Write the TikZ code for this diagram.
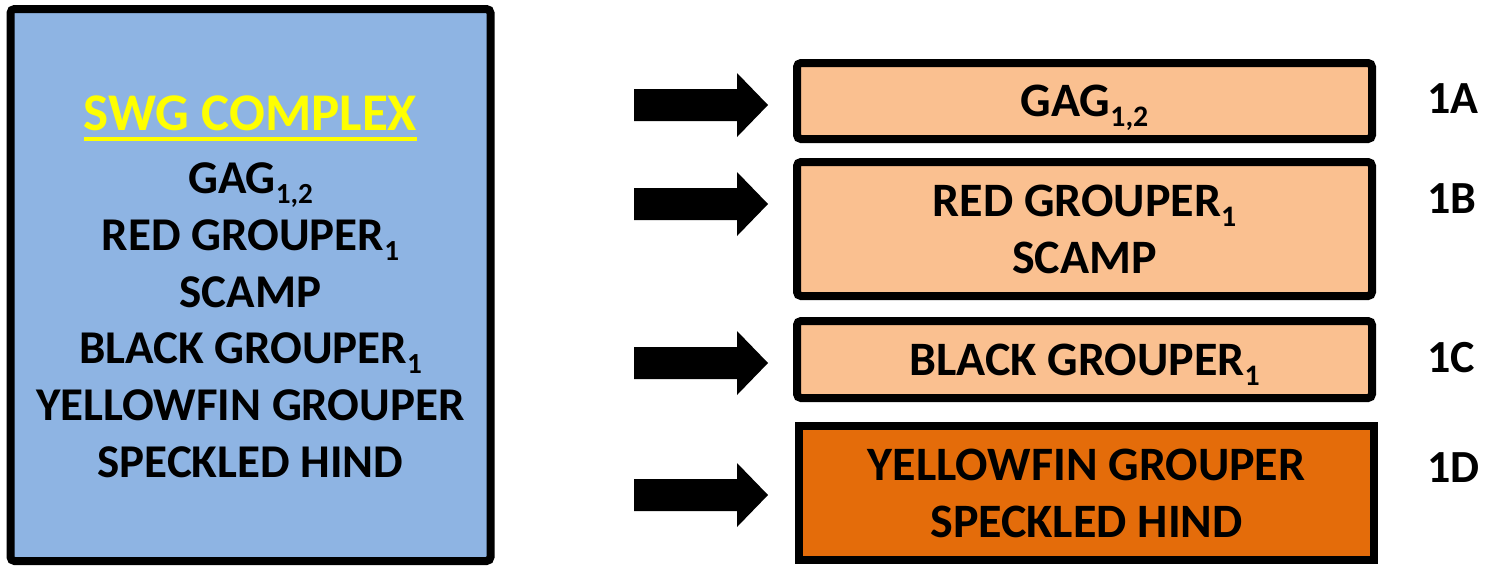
\documentclass[tikz,border=0pt]{standalone}
\usepackage{fontspec}
\setmainfont{Carlito}
\definecolor{skyfill}{HTML}{8EB4E3}
\definecolor{peach}{HTML}{FAC090}
\definecolor{deeporange}{HTML}{E46C0A}
\definecolor{brightyellow}{HTML}{FFFF00}
\newcommand\lowidx[1]{\raisebox{-0.22em}{\fontsize{0.62em}{0.62em}\selectfont #1}}
\newcommand\blockarrow[2]{%
  \fill[black] (#1) ++(0,-16) -- ++(103,0) -- ++(0,-16) -- (#2)
    -- ++(-31,32) -- ++(0,-16) -- ++(-103,0) -- cycle;}
\tikzset{
  panel/.style={draw=black, line width=8pt, rounded corners=4pt, inner sep=0pt, outer sep=0pt},
  label/.style={anchor=base, inner sep=0pt, font=\fontsize{47}{56}\selectfont\bfseries},
  boxlabel/.style={anchor=base, inner sep=0pt, font=\fontsize{48}{56}\selectfont\bfseries},
  tag/.style={anchor=base west, inner sep=0pt, font=\fontsize{46}{53}\selectfont\bfseries},
}
\begin{document}
\begin{tikzpicture}[x=1pt,y=-1pt]
\useasboundingbox (0,0) rectangle (1488,566);

% species complex panel
\node[panel, fill=skyfill, minimum width=480pt, minimum height=552pt] (complex) at (250.5,285) {};
\node[label, font=\fontsize{53}{60}\selectfont\bfseries, text=brightyellow] (swg) at (250.5,130) {SWG COMPLEX};
\draw[brightyellow, line width=4pt] ([yshift=-9pt]swg.base west) -- ([yshift=-9pt]swg.base east);
\node[label] (l1) at (250.5,193) {GAG\lowidx{1,2}};
\node[label] (l2) at (250.5,250) {RED GROUPER\lowidx{1}};
\node[label] (l3) at (250.5,307) {SCAMP};
\node[label] (l4) at (250.5,363) {BLACK GROUPER\lowidx{1}};
\node[label] (l5) at (250.5,420) {YELLOWFIN GROUPER};
\node[label] (l6) at (250.5,477) {SPECKLED HIND};

% subgroup panels
\node[panel, fill=peach, minimum width=575pt, minimum height=76pt] (boxA) at (1084.5,101) {};
\node[panel, fill=peach, minimum width=575pt, minimum height=134pt] (boxB) at (1084.5,229) {};
\node[panel, fill=peach, minimum width=575pt, minimum height=77pt] (boxC) at (1084.5,359.5) {};
\node[panel, fill=deeporange, rounded corners=0pt, minimum width=575pt, minimum height=134pt] (boxD) at (1086.5,493) {};

\node[boxlabel] (tA) at (1084.5,116) {GAG\lowidx{1,2}};
\node[boxlabel] (tB1) at (1084.5,216) {RED GROUPER\lowidx{1}};
\node[boxlabel] (tB2) at (1084.5,273) {SCAMP};
\node[boxlabel] (tC) at (1084.5,375) {BLACK GROUPER\lowidx{1}};
\node[boxlabel] (tD1) at (1086.5,480) {YELLOWFIN GROUPER};
\node[boxlabel] (tD2) at (1086.5,537) {SPECKLED HIND};

% subgroup tags
\node[tag] (nA) at (1427,113) {1A};
\node[tag] (nB) at (1427,213) {1B};
\node[tag] (nC) at (1427,372) {1C};
\node[tag] (nD) at (1427,482) {1D};

% block arrows
\coordinate (sA) at (634,105); \coordinate (eA) at (768,105);
\coordinate (sB) at (634,204); \coordinate (eB) at (768,204);
\coordinate (sC) at (634,363); \coordinate (eC) at (768,363);
\coordinate (sD) at (634,495); \coordinate (eD) at (768,495);
\blockarrow{sA}{eA}
\blockarrow{sB}{eB}
\blockarrow{sC}{eC}
\blockarrow{sD}{eD}
\end{tikzpicture}
\end{document}
